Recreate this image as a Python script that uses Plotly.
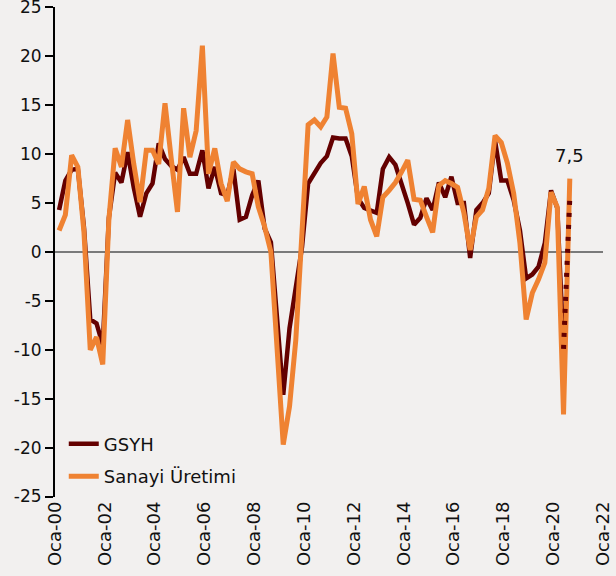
import pandas as pd
import plotly.graph_objects as go

# Quarterly observations, 2000Q1 .. 2020Q3 (dated at the quarter's last month)
quarters = pd.date_range("2000-03-01", periods=83, freq="3MS")

# GSYH (GDP growth, % yoy), 2000Q1 .. 2020Q2
gsyh = [4.3, 7.3, 8.4, 8.5, 2.5, -6.9, -7.3, -9.5, 3.5, 8.1,
        7.1, 10.2, 6.6, 3.6, 6.0, 7.0, 11.1, 9.5, 8.8, 8.4,
        9.7, 8.0, 8.0, 10.4, 6.5, 8.7, 6.0, 5.8, 8.5, 3.3,
        3.6, 5.8, 7.3, 2.4, 1.0, -6.5, -14.6, -7.8, -3.8, 0.5,
        7.0, 8.0, 9.1, 9.8, 11.7, 11.6, 11.6, 9.8, 5.5, 4.5,
        4.3, 4.0, 8.5, 9.7, 8.9, 7.0, 5.0, 2.8, 3.5, 5.5,
        4.3, 7.1, 5.6, 7.7, 5.0, 5.0, -0.6, 4.3, 5.0, 6.0,
        11.4, 7.3, 7.3, 5.3, 2.2, -2.7, -2.3, -1.5, 0.9, 6.3,
        4.5, -9.9]
# GSYH estimate segment: 2020Q2 -> 2020Q3
gsyh_est = [-9.9, 5.5]

# Sanayi Üretimi (industrial production growth, % yoy), 2000Q1 .. 2020Q3
sanayi = [2.2, 3.8, 9.9, 8.7, 2.0, -10.0, -8.7, -11.5, 3.3, 10.6,
          8.7, 13.5, 9.0, 5.1, 10.4, 10.4, 9.0, 15.2, 9.5, 4.1,
          14.7, 9.7, 12.4, 21.1, 8.0, 10.6, 7.0, 5.2, 9.2, 8.5,
          8.2, 8.0, 4.6, 2.6, 0.0, -10.0, -19.7, -15.8, -9.0, 2.0,
          13.0, 13.5, 12.8, 13.8, 20.3, 14.8, 14.7, 12.1, 4.9, 6.7,
          3.3, 1.6, 5.6, 6.3, 7.1, 8.2, 9.4, 5.4, 5.3, 3.6,
          2.0, 6.8, 7.3, 7.0, 6.6, 4.0, 0.2, 3.6, 4.3, 6.5,
          11.9, 11.2, 9.1, 6.0, 0.9, -6.9, -4.2, -2.8, -1.1, 6.1,
          4.6, -16.6, 7.5]

tick_dates = pd.date_range("2000-01-01", "2022-01-01", freq="24MS")
tick_labels = ["Oca-00", "Oca-02", "Oca-04", "Oca-06", "Oca-08", "Oca-10",
               "Oca-12", "Oca-14", "Oca-16", "Oca-18", "Oca-20", "Oca-22"]
y_ticks = [-25, -20, -15, -10, -5, 0, 5, 10, 15, 20, 25]

DARK = "#640000"
ORANGE = "#EF8232"
BG = "#F2F0EF"
FONT = "DejaVu Sans"

fig = go.Figure()
fig.add_trace(go.Scatter(
    x=quarters[:len(gsyh)], y=gsyh, mode="lines", name="GSYH",
    line=dict(color=DARK, width=4.5), legendgroup="a"))
fig.add_trace(go.Scatter(
    x=quarters, y=sanayi, mode="lines", name="Sanayi Üretimi",
    line=dict(color=ORANGE, width=5), legendgroup="b"))
fig.add_trace(go.Scatter(
    x=quarters[len(gsyh) - 1:len(gsyh) + 1], y=gsyh_est, mode="lines",
    showlegend=False, line=dict(color=DARK, width=5, dash="4px,8px")))

fig.add_annotation(x=quarters[-1], y=sanayi[-1], text="7,5", showarrow=False,
                   yshift=23, font=dict(family=FONT, size=18, color="#111111"))

fig.update_layout(
    width=616, height=576,
    margin=dict(l=55, r=13, t=7, b=79),
    paper_bgcolor=BG, plot_bgcolor=BG,
    font=dict(family=FONT, size=18, color="#111111"),
    showlegend=True,
    legend=dict(x=0.016, y=0.005, xanchor="left", yanchor="bottom",
                bgcolor="rgba(0,0,0,0)", font=dict(family=FONT, size=18, color="#111111"),
                tracegroupgap=6, traceorder="grouped"),
    xaxis=dict(type="date", range=["2000-01-01", "2022-01-01"],
               tickvals=tick_dates, ticktext=tick_labels, tickangle=-90,
               showgrid=False, showline=False, zeroline=False, automargin=False,
               ticks="", ticklabeloverflow="allow",
               tickfont=dict(family=FONT, size=18, color="#111111")),
    yaxis=dict(range=[-25.05, 25.05], tickvals=y_ticks, ticktext=[str(v) for v in y_ticks],
               showgrid=False, showline=True, linecolor="#000000", linewidth=2,
               ticks="outside", ticklen=8, tickwidth=2, tickcolor="#000000",
               zeroline=True, zerolinecolor="#7a7a7a", zerolinewidth=2, automargin=False,
               ticklabeloverflow="allow",
               tickfont=dict(family=FONT, size=17, color="#111111")),
)

fig.write_html("out.html", config={"displayModeBar": False},
               post_script="document.body.style.margin='0px';")
